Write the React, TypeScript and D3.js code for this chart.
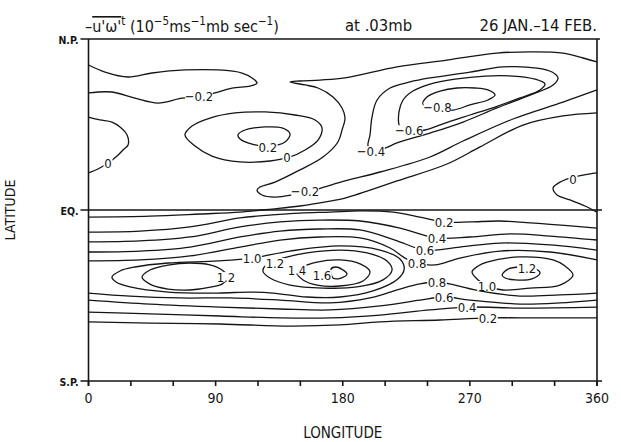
import React from "react";
import * as d3 from "d3";

type Pt = [number, number]; // [longitude, latitude]

// ---- contour lines, as [lon, lat] ----
// northern hemisphere
const negTongueWest: Pt[] = [
  [0, 76.3], [11.7, 72.6], [28, 70], [45, 72.1], [68.3, 73.7], [91.7, 73.7], [108.7, 72.1],
  [115.8, 69.5], [119.3, 66.8], [114.3, 65.2], [101.6, 64.2], [89.6, 61.6], [77.5, 59.5],
  [66.2, 58.9], [49.2, 56.3], [32.9, 58.9], [16.6, 62.1], [0, 61.6],
];
const neg02East: Pt[] = [
  [360, 77.9], [350.1, 80], [335.9, 82.6], [312.6, 83.2], [289.2, 82.6], [253.8, 78.9],
  [218.4, 75.3], [181.6, 69.5], [163.9, 68.4], [149.7, 67.9], [142.7, 67.4], [153.3, 65.8],
  [162.5, 64.2], [173.1, 59.5], [179.5, 53.7], [181.6, 48.4], [179.5, 42.1], [176.6, 35.8],
  [166, 27.9], [149.7, 21.1], [132, 14.7], [121.4, 12.1], [119.3, 10.5], [122.8, 7.9],
  [132, 6.8], [144.1, 7.9], [153.3, 9.5], [162.5, 11.1], [181.6, 15.3], [206.4, 20],
  [241.8, 27.9], [265.2, 36.3], [300.5, 47.9], [335.9, 56.8], [360, 63.2],
];
const neg04: Pt[] = [
  [197.9, 33.7], [199.3, 39.5], [200.7, 48.9], [204.3, 57.9], [213.5, 64.2], [227.6, 67.4],
  [241.8, 69.5], [270.1, 72.6], [293.5, 75.3], [317.5, 74.7], [328.2, 72.6], [332.4, 69.5],
  [328.9, 65.8], [312.6, 60.5], [289.2, 53.7], [265.2, 46.3], [241.8, 40.5], [218.4, 35.3],
  [209.9, 32.6], [200.7, 31.6],
];
const neg06: Pt[] = [
  [220.5, 43.7], [219.8, 51.6], [222.7, 57.9], [229.7, 62.6], [241.8, 66.3], [259.5, 68.9],
  [280.7, 70.5], [300.5, 70.5], [316.1, 68.9], [323.2, 66.3], [319.7, 63.2], [305.5, 59],
  [287.8, 54.2], [270.1, 50], [254.5, 46.3], [238.2, 42.1], [227.6, 41.6],
];
const neg08: Pt[] = [
  [236.8, 55.8], [239.6, 59.5], [248.9, 62.6], [260.9, 64.2], [273.6, 64.2], [282.8, 63.2],
  [287.8, 60.5], [282.8, 57.9], [270.1, 55.3], [258.1, 52.6], [245.3, 53.2],
];
const zeroWestBulge: Pt[] = [
  [0, 48.9], [8, 47.4], [16.6, 46.3], [22.3, 43.7], [27.3, 39.5], [28, 34.2], [24.4, 31.6],
  [20.2, 28.4], [13.8, 24.7], [6.7, 21.6], [0, 19.5],
];
const zeroCentre: Pt[] = [
  [68.3, 39.5], [73.3, 44.2], [86, 48.4], [103.7, 51.1], [125, 51.6], [146.2, 50], [160.4, 47.4],
  [165.3, 43.2], [162.5, 36.8], [153.3, 31.6], [142.7, 27.9], [128.5, 25.8], [107.3, 25.3],
  [87.4, 28.4], [75.4, 33.7],
];
const pos02North: Pt[] = [
  [105.8, 39.5], [110.8, 42.1], [125, 43.7], [137, 43.2], [142.7, 40], [139.1, 35.8],
  [128.5, 33.7], [115.8, 34.7], [107.3, 37.4],
];
const zeroEastEdge: Pt[] = [
  [360, 19.5], [350.1, 18.4], [340.9, 16.8], [333.8, 14.7], [328.9, 11.6], [331.7, 7.9],
  [340.9, 5.3], [351.5, 2.1], [360, -1.1],
];
const zeroEquator: Pt[] = [
  [0, -3.7], [43.5, -3.2], [78.9, -2.1], [107.3, -1.1], [129.9, 0.5], [149.7, 2.1], [171, 4.7],
  [181.6, 6.3], [218.4, 15.3], [253.8, 24.2], [277.2, 33.2], [307.6, 44.7], [335.9, 49.5], [360, 51.1],
];

// southern hemisphere
const pos02Upper: Pt[] = [
  [0, -11.6], [36.5, -11.1], [71.9, -8.9], [107.3, -4.2], [129.9, -2.6], [149.7, -1.6], [171, -1.1],
  [192.3, -0.5], [215.6, -1.1], [234.7, -3.7], [251.7, -6.3], [270.1, -6.3], [291.3, -5.8],
  [324.6, -7.4], [360, -9.5],
];
const pos04Upper: Pt[] = [
  [0, -16.8], [36.5, -16.3], [71.9, -14.2], [107.3, -8.9], [135.6, -6.3], [163.9, -5.3],
  [192.3, -5.8], [220.5, -9.5], [246.7, -14.7], [270.1, -14.2], [298.4, -12.6], [326.7, -13.7], [360, -15.8],
];
const pos06Upper: Pt[] = [
  [0, -22.1], [36.5, -21.6], [71.9, -19.5], [107.3, -14.2], [135.6, -11.1], [163.9, -10],
  [192.3, -10.5], [217, -15.8], [238.2, -21.1], [263, -19.5], [291.3, -17.4], [326.7, -18.4], [360, -21.1],
];
const pos08Upper: Pt[] = [
  [0, -26.8], [36.5, -26.3], [71.9, -24.2], [107.3, -19.5], [135.6, -15.8], [163.9, -14.2],
  [192.3, -14.7], [213.5, -20], [224.1, -25.3], [232.6, -27.9], [245.3, -28.9], [263, -25.3],
  [291.3, -21.6], [326.7, -22.1], [360, -26.3],
];
const pos08Lower: Pt[] = [
  [0, -43.7], [29.4, -45.3], [64.8, -46.3], [100.2, -46.3], [135.6, -47.4], [171, -48.9],
  [199.3, -46.3], [220.5, -41.6], [234.7, -38.9], [246.7, -37.9], [259.5, -39.5], [277.2, -42.6],
  [305.5, -45.3], [333.8, -44.7], [360, -43.7],
];
const pos06Lower: Pt[] = [
  [0, -47.4], [43.5, -49.5], [93.1, -51.1], [135.6, -52.1], [171, -52.6], [206.4, -50.5],
  [234.7, -47.4], [251.7, -45.8], [270.1, -47.4], [305.5, -49.5], [333.8, -48.9], [360, -47.4],
];
const pos04Lower: Pt[] = [
  [0, -53.7], [43.5, -54.7], [93.1, -55.8], [135.6, -56.8], [171, -56.8], [206.4, -55.3],
  [241.8, -52.6], [268, -51.1], [305.5, -51.6], [360, -51.1],
];
const pos02Lower: Pt[] = [
  [0, -58.9], [43.5, -59.5], [93.1, -60], [142.7, -61.1], [178.1, -60.5], [206.4, -58.9],
  [248.9, -57.9], [282.8, -56.8], [319.7, -56.8], [360, -56.8],
];
const pos10West: Pt[] = [
  [16.6, -35.3], [22.3, -32.1], [32.9, -30], [56.3, -27.9], [91.7, -26.8], [115.8, -25.3],
  [142.7, -21.6], [178.1, -18.9], [206.4, -21.1], [220.5, -25.8], [223.5, -31.1], [219, -36.3],
  [201.4, -42.6], [178.1, -45.8], [154.7, -45.8], [130.6, -43.7], [114.3, -43.2], [91.7, -43.7],
  [56.3, -43.2], [29.4, -40.5], [19.5, -37.9],
];
const pos12West: Pt[] = [
  [37.9, -35.3], [43.5, -31.6], [56.3, -29], [71.9, -27.9], [86, -28.9], [94.5, -31.6],
  [98.8, -35.3], [94.5, -39], [87.4, -40.5], [71.9, -42.1], [56.3, -41.6], [43.5, -39],
];
const pos12Mid: Pt[] = [
  [123.5, -32.1], [125.7, -28.9], [137.7, -25.3], [154.7, -22.6], [178.1, -21.1], [197.2, -22.6],
  [211.3, -26.8], [214.9, -31.6], [208.5, -36.8], [190.1, -40.5], [166, -41.1], [142.7, -39.5],
  [128.5, -35.8],
];
const pos14: Pt[] = [
  [147.6, -33.2], [151.9, -30], [161.8, -27.4], [178.1, -26.3], [192.3, -28.4], [199.3, -32.6],
  [194.3, -37.4], [178.1, -40], [161.8, -39.5], [151.9, -36.8],
];
const pos16: Pt[] = [
  [171.7, -31.1], [175.2, -30], [180.2, -31.6], [183, -33.7], [178.8, -35.8], [173.1, -35.8],
];
const pos10East: Pt[] = [
  [271.5, -32.6], [275.8, -29.5], [282.1, -27.4], [305.5, -24.7], [328.9, -26.3], [337.4, -29.5],
  [343, -34.2], [333.8, -39.5], [312.6, -41.1], [293.5, -42.1], [284.3, -40.5], [275.8, -36.8],
];
const pos12East: Pt[] = [
  [292.8, -34.2], [297, -31.1], [305.5, -30], [314.7, -30.5], [319.7, -33.2], [314, -36.3],
  [302, -36.8], [295, -35.8],
];

const openLines: Pt[][] = [
  negTongueWest, neg02East, zeroWestBulge, zeroEastEdge, zeroEquator,
  pos02Upper, pos04Upper, pos06Upper, pos08Upper, pos08Lower, pos06Lower, pos04Lower, pos02Lower,
];
const closedLines: Pt[][] = [
  neg04, neg06, neg08, zeroCentre, pos02North,
  pos10West, pos12West, pos12Mid, pos14, pos16, pos10East, pos12East,
];

// contour labels [lon, lat, text]
const contourLabels: [number, number, string][] = [
  [78.2, 60, "\u22120.2"], [153.3, 10, "\u22120.2"], [200, 31, "\u22120.4"], [227, 42, "\u22120.6"],
  [247, 54.2, "\u22120.8"], [13.8, 24.7, "0"], [140.5, 27.9, "0"], [127, 33.2, "0.2"], [343, 16.3, "0"],
  [251.7, -6.3, "0.2"], [246.7, -14.7, "0.4"], [238.2, -21.1, "0.6"], [232.6, -27.9, "0.8"],
  [246.7, -37.9, "0.8"], [251.7, -45.8, "0.6"], [268, -51.1, "0.4"], [282.8, -56.8, "0.2"],
  [115.8, -25.3, "1.0"], [97.3, -35.3, "1.2"], [132, -27.9, "1.2"], [147.6, -31.6, "1.4"],
  [165.3, -34.2, "1.6"], [282.1, -40, "1.0"], [310.4, -30.5, "1.2"],
];

// axes
const lonTicks = [0, 30, 60, 90, 120, 150, 180, 210, 240, 270, 300, 330, 360];
const lonTickLabels = [0, 90, 180, 270, 360];
const latTicks = [90, 0, -90];
const latTickLabels = ["N.P.", "EQ.", "S.P."];

const W = 621;
const H = 442;
const FONT = "'Liberation Sans Narrow','DejaVu Sans Condensed','Arial Narrow',sans-serif";
const INK = "#151515";

// rough width of a contour label, used for the white gap behind it
const labelWidth = (t: string) =>
  t.split("").reduce((s, c) => s + (c === "." ? 3.6 : c === "\u2212" ? 8 : 7), 0) + 2;

export default function App() {
  const x = d3.scaleLinear().domain([0, 360]).range([88.5, 597]);
  const y = d3.scaleLinear().domain([90, -90]).range([39, 381]);

  const openPath = d3.line<Pt>().x((d) => x(d[0])).y((d) => y(d[1])).curve(d3.curveCatmullRom.alpha(0.5));
  const closedPath = d3.line<Pt>().x((d) => x(d[0])).y((d) => y(d[1])).curve(d3.curveCatmullRomClosed.alpha(0.5));

  const left = x(0);
  const right = x(360);
  const top = y(90);
  const bottom = y(-90);

  return (
    <svg
      width={W}
      height={H}
      viewBox={`0 0 ${W} ${H}`}
      style={{ position: "absolute", left: 0, top: 0, background: "#fff", display: "block" }}
      fontFamily={FONT}
    >
      <rect width={W} height={H} fill="#fff" />

      {/* contour lines */}
      <g fill="none" stroke={INK} strokeWidth={1.3} strokeLinejoin="round">
        {openLines.map((pts, i) => (
          <path key={"o" + i} d={openPath(pts) || ""} />
        ))}
        {closedLines.map((pts, i) => (
          <path key={"c" + i} d={closedPath(pts) || ""} />
        ))}
      </g>

      {/* contour labels, each on a white gap cut into its line */}
      <g fontSize={13} fill={INK} textAnchor="middle">
        {contourLabels.map(([lon, lat, t], i) => {
          const w = labelWidth(t);
          return (
            <g key={i} transform={`translate(${x(lon)},${y(lat)})`}>
              <rect x={-w / 2} y={-5} width={w} height={10} fill="#fff" />
              <text dy="0.36em">{t}</text>
            </g>
          );
        })}
      </g>

      {/* frame */}
      <g stroke={INK} strokeWidth={1.6} fill="none">
        <line x1={left} x2={left} y1={top} y2={bottom + 5} />
        <line x1={right} x2={right} y1={top} y2={bottom + 5} />
        <line x1={left - 8} x2={right + 3} y1={top} y2={top} />
        <line x1={left - 8} x2={right + 5} y1={bottom} y2={bottom} />
        <line x1={left - 8} x2={right + 5} y1={y(0)} y2={y(0)} />
        {lonTicks.map((t) => (
          <line key={t} x1={x(t)} x2={x(t)} y1={bottom} y2={bottom + 5} />
        ))}
      </g>

      {/* latitude marks */}
      <g fontSize={10.5} fontWeight="bold" fill={INK} textAnchor="end">
        {latTicks.map((t, i) => (
          <text key={t} x={left - 10} y={y(t)} dy="0.45em">
            {latTickLabels[i]}
          </text>
        ))}
      </g>

      {/* longitude labels */}
      <g fontSize={14} fill={INK} textAnchor="middle">
        {lonTickLabels.map((t) => (
          <text key={t} x={x(t)} y={bottom + 22}>
            {t}
          </text>
        ))}
      </g>

      <text x={(left + right) / 2} y={438} fontSize={15} textAnchor="middle" fill={INK}>
        LONGITUDE
      </text>
      <text
        transform={`translate(15,${y(0)}) rotate(-90)`}
        fontSize={14}
        textAnchor="middle"
        fill={INK}
      >
        LATITUDE
      </text>

      {/* title */}
      <text x={85} y={32} fontSize={16} fill={INK}>
        <tspan>{"\u2013"}</tspan>
        <tspan style={{ textDecoration: "overline" }}>{"u'\u03c9'"}</tspan>
        <tspan dy={-7} fontSize={11.5}>t</tspan>
        <tspan dy={7}>{" (10"}</tspan>
        <tspan dy={-7} fontSize={11.5}>{"\u22125"}</tspan>
        <tspan dy={7}>ms</tspan>
        <tspan dy={-7} fontSize={11.5}>{"\u22121"}</tspan>
        <tspan dy={7}>mb sec</tspan>
        <tspan dy={-7} fontSize={11.5}>{"\u22121"}</tspan>
        <tspan dy={7}>)</tspan>
      </text>
      <text x={345} y={31} fontSize={16.5} fill={INK}>
        at .03mb
      </text>
      <text x={597} y={31} fontSize={16.5} fill={INK} textAnchor="end">
        {"26 JAN.\u201314 FEB."}
      </text>
    </svg>
  );
}
